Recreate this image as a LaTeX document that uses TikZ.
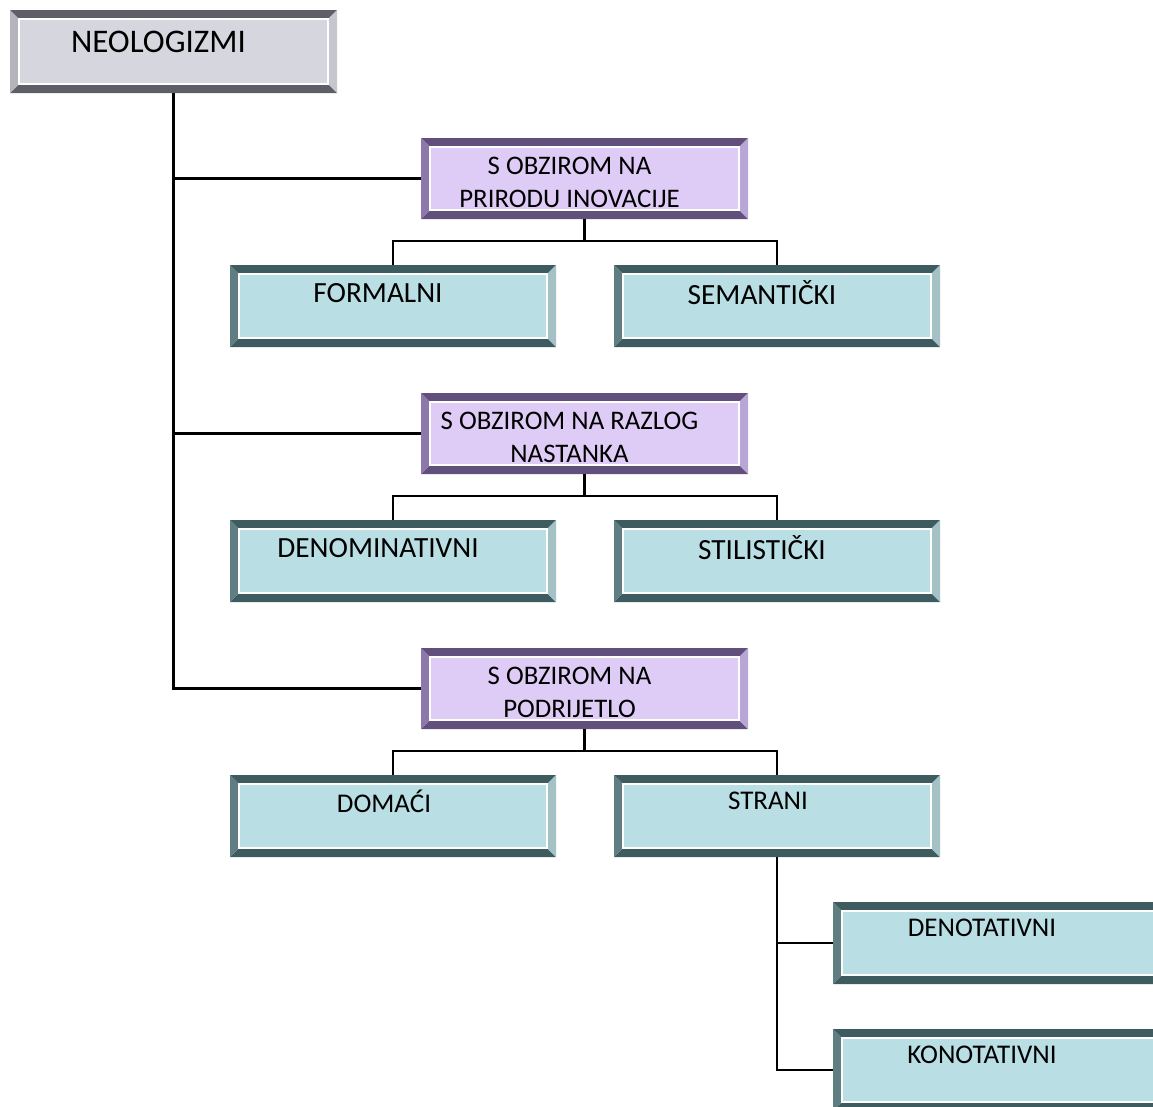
\documentclass[tikz,border=0pt]{standalone}
\usepackage{fontspec}
\setmainfont{Carlito}
\definecolor{greyface}{HTML}{D6D6DE}
\definecolor{greyedge}{HTML}{5E5E66}
\definecolor{greyleft}{HTML}{B4B4BC}
\definecolor{greyright}{HTML}{C6C6CE}
\definecolor{lilacface}{HTML}{DECCF6}
\definecolor{lilacedge}{HTML}{62507C}
\definecolor{lilacleft}{HTML}{8C78AA}
\definecolor{lilacright}{HTML}{B8A6D6}
\definecolor{tealface}{HTML}{B9DEE4}
\definecolor{tealedge}{HTML}{3E5C60}
\definecolor{tealleft}{HTML}{5E7E82}
\definecolor{tealright}{HTML}{A4C2C6}
\tikzset{
  bevel/.style n args={4}{rectangle, inner sep=0pt, minimum width=326pt, minimum height=82pt, fill=#1,
    path picture={
      \coordinate (q1) at (path picture bounding box.north west);
      \coordinate (q2) at (path picture bounding box.north east);
      \coordinate (q3) at (path picture bounding box.south east);
      \coordinate (q4) at (path picture bounding box.south west);
      \coordinate (r1) at ([xshift=9pt,yshift=-9pt]q1);
      \coordinate (r2) at ([xshift=-9pt,yshift=-9pt]q2);
      \coordinate (r3) at ([xshift=-9pt,yshift=9pt]q3);
      \coordinate (r4) at ([xshift=9pt,yshift=9pt]q4);
      \fill[#2] (q1) -- (q2) -- (r2) -- (r1) -- cycle;
      \fill[#2] (q4) -- (q3) -- (r3) -- (r4) -- cycle;
      \fill[#3] (q1) -- (r1) -- (r4) -- (q4) -- cycle;
      \fill[#4] (q2) -- (r2) -- (r3) -- (q3) -- cycle;
      \draw[white, line width=1.5pt] (r1) rectangle (r3);
    }},
  rootbox/.style={bevel={greyface}{greyedge}{greyleft}{greyright}, minimum width=327pt, minimum height=83pt},
  lilacbox/.style={bevel={lilacface}{lilacedge}{lilacleft}{lilacright}, minimum width=327pt, minimum height=81pt},
  tealbox/.style={bevel={tealface}{tealedge}{tealleft}{tealright}},
  widebox/.style={tealbox, minimum width=330pt},
  roottext/.style={font=\fontsize{33}{40}\selectfont, xshift=-15pt, yshift=9.5pt},
  lilactext/.style={font=\fontsize{26.8}{33}\selectfont, align=center, xshift=-15pt, yshift=-4pt},
  tealtext/.style={font=\fontsize{29.3}{35}\selectfont, xshift=-15pt, yshift=13pt},
  smalltext/.style={font=\fontsize{27}{33}\selectfont, xshift=-9pt, yshift=15pt},
  widetext/.style={smalltext, xshift=-7pt},
  link/.style={line width=2.2pt}
}
\begin{document}
\begin{tikzpicture}[x=1pt, y=-1pt]
\useasboundingbox (0,0) rectangle (1153,1106);
\clip (0,0) rectangle (1153,1106);

\node[rootbox, label={[roottext]center:NEOLOGIZMI}] (neo) at (173.5,51.5) {};

\node[lilacbox, label={[lilactext]center:{S OBZIROM NA\\PRIRODU INOVACIJE}}] (priroda) at (584.5,178.5) {};
\node[tealbox, label={[tealtext]center:FORMALNI}] (formalni) at (393,306) {};
\node[tealbox, label={[tealtext]center:SEMANTIČKI}] (semanticki) at (777,306) {};

\node[lilacbox, label={[lilactext]center:{S OBZIROM NA RAZLOG\\NASTANKA}}] (razlog) at (584.5,433.5) {};
\node[tealbox, label={[tealtext]center:DENOMINATIVNI}] (denominativni) at (393,561) {};
\node[tealbox, label={[tealtext]center:STILISTIČKI}] (stilisticki) at (777,561) {};

\node[lilacbox, label={[lilactext]center:{S OBZIROM NA\\PODRIJETLO}}] (podrijetlo) at (584.5,688.5) {};
\node[tealbox, label={[smalltext]center:DOMAĆI}] (domaci) at (393,816) {};
\node[tealbox, label={[smalltext]center:STRANI}] (strani) at (777,816) {};

\node[widebox, label={[widetext]center:DENOTATIVNI}] (denotativni) at (998,943) {};
\node[widebox, label={[widetext]center:KONOTATIVNI}] (konotativni) at (998,1070) {};

% spine from the root
\draw[link] (neo.south) |- (priroda.west);
\draw[link] (neo.south) |- (razlog.west);
\draw[link] (neo.south) |- (podrijetlo.west);

% buses under each criterion
\draw[link] (priroda.south) -- ++(0,22) coordinate (bus1);
\draw[link] (formalni.north) |- (bus1) -| (semanticki.north);
\draw[link] (razlog.south) -- ++(0,22) coordinate (bus2);
\draw[link] (denominativni.north) |- (bus2) -| (stilisticki.north);
\draw[link] (podrijetlo.south) -- ++(0,22) coordinate (bus3);
\draw[link] (domaci.north) |- (bus3) -| (strani.north);

\draw[link] (strani.south) |- (denotativni.west);
\draw[link] (strani.south) |- (konotativni.west);
\end{tikzpicture}
\end{document}
